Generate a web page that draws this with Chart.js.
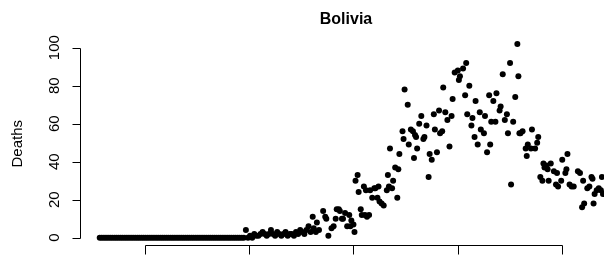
<!DOCTYPE html>
<html>
<head>
    <title>Bolivia</title>
    <script src="https://cdn.jsdelivr.net/npm/chart.js@4/dist/chart.umd.min.js"></script>
    <style>
        body { margin: 0; background: #fff; }
    </style>
</head>
<body>
    <canvas id="myChart" width="607" height="264"></canvas>

    <script>
        // day index (x) and daily deaths (y)
        var days = [
            57, 59, 61, 63, 65, 67, 69, 71, 73, 75, 77, 79, 81, 83, 85, 87, 89, 91, 93, 95,
            97, 99, 101, 103, 105, 107, 109, 111, 113, 115, 117, 119, 121, 123, 125, 127, 129, 131, 133, 135,
            137, 139, 141, 143, 145, 147, 149, 151, 153, 155, 157, 159, 161, 163, 165, 167, 169, 171, 173, 175,
            177, 179, 181, 183, 185, 187, 189, 191, 193, 195,
            197, 199, 201, 203, 205, 207, 209, 211, 213, 215, 217, 219, 221, 223, 225, 227, 229, 231, 233, 235,
            237, 239, 241, 243, 245, 247, 249, 251, 253, 255, 257, 259,
            261, 262, 264, 265, 267, 271, 273, 274, 276, 279, 281, 283, 284, 286, 287, 289, 290, 292, 294, 296,
            297, 298, 300, 301, 302, 304, 305, 307, 308, 310, 311, 312, 313, 315, 316, 318, 320, 321, 323, 324,
            325, 327, 329, 332, 333, 334, 335, 337, 338, 340, 342, 343, 344, 347, 348, 349, 352, 353, 355, 357,
            358, 359, 360, 361, 363, 365, 367, 368, 370, 372, 373, 375, 377, 378, 380, 382, 383, 385, 386, 388,
            390, 392, 394, 395, 397, 400, 401, 402, 405, 407, 408, 409, 411, 413, 414, 416, 417, 419, 421, 422,
            425, 426, 428, 430, 431, 432, 434, 436, 437, 440, 441, 443, 445, 447, 448, 450, 451, 453, 455, 457,
            458, 459, 460, 462, 465, 466, 467, 470, 471, 474, 476, 477, 479, 481, 482, 483, 485, 486, 487, 489,
            492, 494, 495, 496, 499, 500, 503, 504, 505, 507, 509, 511, 515, 517, 519, 520, 521, 524, 526, 528,
            529, 530, 531, 533, 535, 537, 538, 539
        ];
        var deaths = [
            0, 0, 0, 0, 0, 0, 0, 0, 0, 0, 0, 0, 0, 0, 0, 0, 0, 0, 0, 0,
            0, 0, 0, 0, 0, 0, 0, 0, 0, 0, 0, 0, 0, 0, 0, 0, 0, 0, 0, 0,
            0, 0, 0, 0, 0, 0, 0, 0, 0, 0, 0, 0, 0, 0, 0, 0, 0, 0, 0, 0,
            0, 0, 0, 0, 0, 0, 0, 0, 0, 0,
            4, 0, 1, 0, 2, 1, 1, 2, 3, 2, 1, 2, 4, 2, 1, 3, 2, 1, 2, 3,
            1, 2, 2, 1, 3, 2, 4, 3, 2, 4, 6, 3,
            11, 5, 3, 8, 4, 14, 11, 10, 1, 5, 6, 10, 15, 15, 14, 10, 10, 13, 6, 12,
            6, 9, 7, 3, 30, 33, 24, 15, 12, 27, 12, 25, 11, 12, 25, 21, 26, 26, 21, 27,
            19, 18, 17, 25, 33, 27, 47, 26, 30, 37, 21, 36, 44, 56, 52, 78, 70, 49, 57, 56,
            42, 54, 53, 47, 60, 64, 52, 53, 59, 32, 44, 41, 65, 57, 45, 67, 55, 56, 79, 66,
            62, 48, 64, 73, 87, 88, 83, 85, 89, 75, 92, 65, 80, 59, 63, 53, 72, 49, 66, 57,
            55, 64, 45, 75, 49, 61, 72, 61, 76, 67, 69, 86, 62, 65, 55, 92, 28, 61, 74, 102,
            85, 55, 55, 56, 47, 43, 49, 47, 57, 47, 50, 53, 32, 30, 39, 37, 38, 36, 30, 39,
            35, 28, 34, 27, 30, 41, 34, 36, 44, 28, 27, 27, 35, 34, 16, 30, 18, 26, 27, 32,
            31, 18, 23, 25, 26, 25, 32, 23
        ];
        var yTicks = [0, 20, 40, 60, 80, 100];
        var xTicks = [100, 200, 300, 400, 500];

        var font = "'Liberation Sans', Arial, sans-serif";

        var points = days.map(function (d, i) { return { x: d, y: deaths[i] }; });

        // base-graphics style axes, title and labels
        var baseAxes = {
            id: 'baseAxes',
            afterDraw: function (chart) {
                var ctx = chart.ctx;
                var xs = chart.scales.x;
                var ys = chart.scales.y;
                var area = chart.chartArea;
                ctx.save();
                ctx.strokeStyle = '#000';
                ctx.fillStyle = '#000';
                ctx.lineWidth = 1;

                // y axis
                var ax = Math.round(area.left) + 0.5;
                var y0 = ys.getPixelForValue(yTicks[0]);
                var y1 = ys.getPixelForValue(yTicks[yTicks.length - 1]);
                ctx.beginPath();
                ctx.moveTo(ax, Math.round(y0) + 0.5);
                ctx.lineTo(ax, Math.round(y1) + 0.5);
                yTicks.forEach(function (t) {
                    var py = Math.round(ys.getPixelForValue(t)) + 0.5;
                    ctx.moveTo(ax, py);
                    ctx.lineTo(ax - 8, py);
                });
                ctx.stroke();

                ctx.font = '15px ' + font;
                ctx.textAlign = 'center';
                ctx.textBaseline = 'alphabetic';
                yTicks.forEach(function (t) {
                    var py = ys.getPixelForValue(t);
                    ctx.save();
                    ctx.translate(58.5, py);
                    ctx.rotate(-Math.PI / 2);
                    ctx.fillText(String(t), 0, 0);
                    ctx.restore();
                });

                // axis title
                ctx.save();
                ctx.translate(21.5, (y0 + y1) / 2 + 1);
                ctx.rotate(-Math.PI / 2);
                ctx.fillText('Deaths', 0, 0);
                ctx.restore();

                // x axis
                var bx = Math.round(area.bottom) + 0.5;
                ctx.beginPath();
                ctx.moveTo(Math.round(xs.getPixelForValue(xTicks[0])) + 0.5, bx);
                ctx.lineTo(Math.round(xs.getPixelForValue(xTicks[xTicks.length - 1])) + 0.5, bx);
                xTicks.forEach(function (t) {
                    var px = Math.round(xs.getPixelForValue(t)) + 0.5;
                    ctx.moveTo(px, bx);
                    ctx.lineTo(px, bx + 9);
                });
                ctx.stroke();

                // main title
                ctx.font = 'bold 16px ' + font;
                ctx.fillText('Bolivia', 346, 24);
                ctx.restore();
            }
        };

        var ctx = document.getElementById('myChart').getContext('2d');
        var chart = new Chart(ctx, {
            type: 'scatter',
            data: {
                datasets: [{
                    data: points,
                    backgroundColor: '#000',
                    borderWidth: 0,
                    pointRadius: 3,
                    pointHoverRadius: 3
                }]
            },
            options: {
                responsive: false,
                animation: false,
                events: [],
                layout: {
                    padding: { left: 80, right: 0, top: 36.15, bottom: 18.55 }
                },
                plugins: {
                    legend: { display: false },
                    tooltip: { enabled: false }
                },
                scales: {
                    x: {
                        type: 'linear',
                        display: false,
                        min: 38.1,
                        max: 540
                    },
                    y: {
                        display: false,
                        min: -4.08,
                        max: 106.08
                    }
                }
            },
            plugins: [baseAxes]
        });
    </script>
</body>
</html>
